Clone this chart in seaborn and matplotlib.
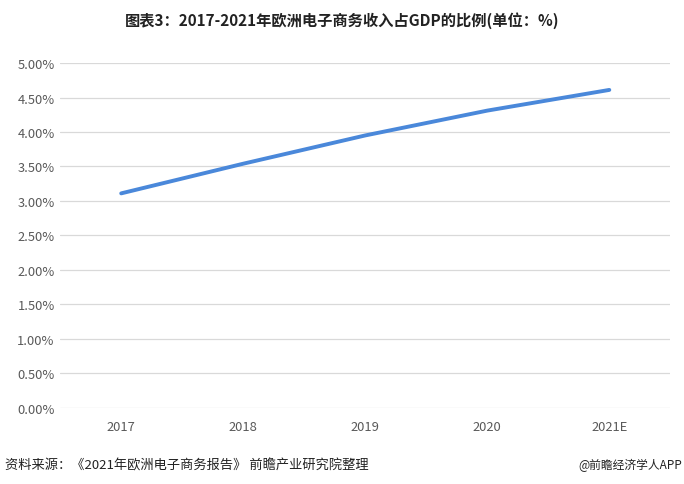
import pandas as pd
import seaborn as sns
import matplotlib.pyplot as plt
from matplotlib.ticker import PercentFormatter

# data
years = ['2017', '2018', '2019', '2020', '2021E']
share = [3.11, 3.54, 3.95, 4.31, 4.61]

df = pd.DataFrame({'year': years, 'share': share})

sns.set_theme(style='white')
plt.rcParams['font.family'] = ['Noto Sans CJK SC', 'DejaVu Sans']

fig = plt.figure(figsize=(6.84, 4.85), dpi=100)
ax = fig.add_axes([0.088, 0.157, 0.892, 0.711])

sns.lineplot(data=df, x='year', y='share', sort=False, color='#4a88da',
             linewidth=2.8, solid_capstyle='round', ax=ax)

ax.set_xlim(-0.5, 4.5)
ax.set_ylim(0, 5)
ax.set_yticks([i * 0.5 for i in range(11)])
ax.yaxis.set_major_formatter(PercentFormatter(decimals=2))
ax.grid(axis='y', color='#d9d9d9', linewidth=0.9)
ax.set_axisbelow(True)
for s in ax.spines.values():
    s.set_visible(False)
ax.tick_params(axis='both', length=0, labelsize=9.3, colors='#595959', pad=4)
ax.tick_params(axis='x', pad=9)
ax.set_xlabel('')
ax.set_ylabel('')

fig.text(0.5, 0.958, '图表3：2017-2021年欧洲电子商务收入占GDP的比例(单位：%)',
         ha='center', va='center', fontsize=11, fontweight='bold', color='#222222')
fig.text(0.008, 0.04, '资料来源：《2021年欧洲电子商务报告》 前瞻产业研究院整理',
         ha='left', va='center', fontsize=9.5, color='#222222')
fig.text(0.997, 0.04, '@前瞻经济学人APP',
         ha='right', va='center', fontsize=8.5, color='#222222')

fig.savefig('out.png', dpi=100)
